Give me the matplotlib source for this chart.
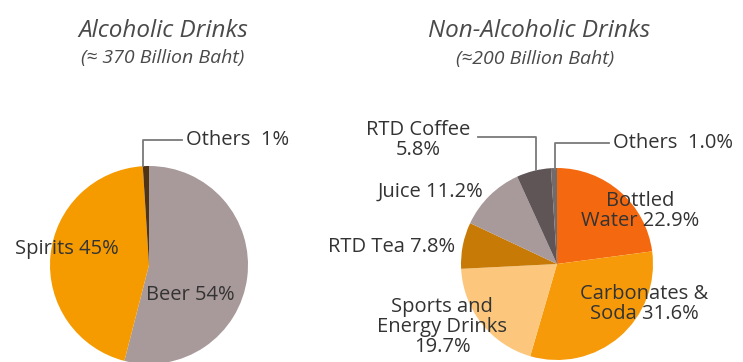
from matplotlib import pyplot as plt
from matplotlib import rcParams

rcParams['font.family'] = ['Open Sans', 'DejaVu Sans']

# data
alc_labels = ['Beer', 'Spirits', 'Others']
alc_values = [54, 45, 1]
alc_colors = ['#A8999A', '#F59B00', '#4E3317']

non_labels = ['Bottled Water', 'Carbonates & Soda', 'Sports and Energy Drinks',
              'RTD Tea', 'Juice', 'RTD Coffee', 'Others']
non_values = [22.9, 31.6, 19.7, 7.8, 11.2, 5.8, 1.0]
non_colors = ['#F4690F', '#F79A0A', '#FCC77C', '#C77A06', '#A8999B', '#5F5556', '#736A6C']

W, H = 743, 362
def Y(p):
    return H - p

fig = plt.figure(figsize=(W/100, H/100), dpi=100)
ax = fig.add_axes([0, 0, 1, 1])

ax.pie(alc_values, colors=alc_colors, startangle=90, counterclock=False,
       center=(149, Y(265)), radius=99, wedgeprops=dict(linewidth=0))
ax.pie(non_values, colors=non_colors, startangle=90, counterclock=False,
       center=(557, Y(264)), radius=96, wedgeprops=dict(linewidth=0))

ax.set_xlim(0, W)
ax.set_ylim(0, H)
ax.set_aspect('auto')
ax.axis('off')

tc = '#333333'
fs = 14.5
ls = 1.0
# titles
tcol = '#4a4a4a'
ax.text(163, Y(31), 'Alcoholic Drinks', ha='center', va='center', fontsize=17.5,
        style='italic', color=tcol)
ax.text(163, Y(58), '(\u2248 370 Billion Baht)', ha='center', va='center', fontsize=14,
        style='italic', color=tcol)
ax.text(539, Y(31), 'Non-Alcoholic Drinks', ha='center', va='center', fontsize=17.5,
        style='italic', color=tcol)
ax.text(535, Y(59), '(\u2248200 Billion Baht)', ha='center', va='center', fontsize=14,
        style='italic', color=tcol)

# left labels
ax.text(67, Y(249), 'Spirits 45%', ha='center', va='center', fontsize=fs, color=tc)
ax.text(190, Y(295), 'Beer 54%', ha='center', va='center', fontsize=fs, color=tc)
ax.text(186, Y(140), 'Others  1%', ha='left', va='center', fontsize=fs, color=tc)
lc = '#7a7a7a'
ax.plot([143, 143, 182], [Y(166), Y(140), Y(140)], color=lc, lw=1.3)

# right labels
ax.text(418, Y(140), 'RTD Coffee\n5.8%', ha='center', va='center', fontsize=fs,
        color=tc, linespacing=ls)
ax.plot([478, 536, 536], [Y(137), Y(137), Y(170)], color=lc, lw=1.3)
ax.text(613, Y(143), 'Others  1.0%', ha='left', va='center', fontsize=fs, color=tc)
ax.plot([555, 555, 609], [Y(169), Y(143), Y(143)], color=lc, lw=1.3)
ax.text(430, Y(192), 'Juice 11.2%', ha='center', va='center', fontsize=fs, color=tc)
ax.text(392, Y(247), 'RTD Tea 7.8%', ha='center', va='center', fontsize=fs, color=tc)
ax.text(640, Y(211), 'Bottled\nWater 22.9%', ha='center', va='center', fontsize=fs,
        color=tc, linespacing=ls)
ax.text(644, Y(304), 'Carbonates &\nSoda 31.6%', ha='center', va='center', fontsize=fs,
        color=tc, linespacing=ls)
ax.text(442, Y(327), 'Sports and\nEnergy Drinks\n19.7%', ha='center', va='center',
        fontsize=fs, color=tc, linespacing=ls)

fig.savefig('out.png', dpi=100)
